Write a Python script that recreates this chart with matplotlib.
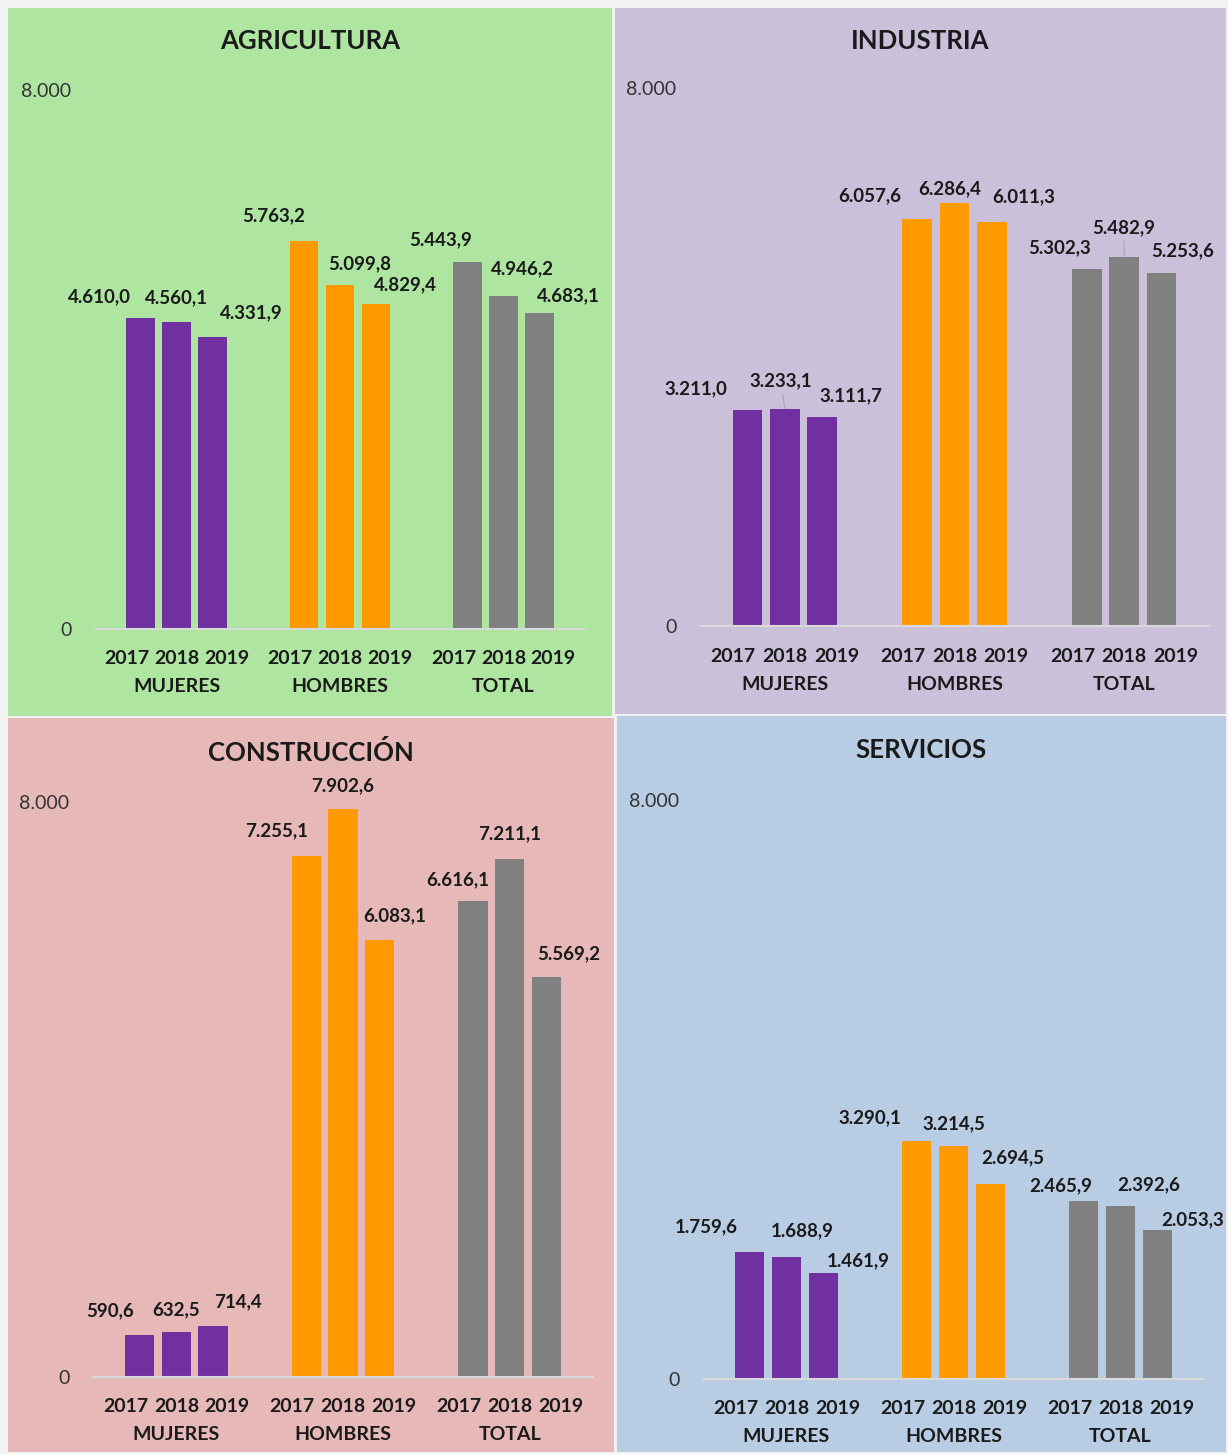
import numpy as np
import matplotlib
matplotlib.use("Agg")
import matplotlib.pyplot as plt
from matplotlib.patches import Rectangle

plt.rcParams['font.family'] = ['Lato', 'DejaVu Sans']

# data (miles)
years = ['2017', '2018', '2019']
groups = ['MUJERES', 'HOMBRES', 'TOTAL']
titles = ['AGRICULTURA', 'INDUSTRIA', 'CONSTRUCCIÓN', 'SERVICIOS']

agricultura_mujeres = [4610.0, 4560.1, 4331.9]
agricultura_hombres = [5763.2, 5099.8, 4829.4]
agricultura_total = [5443.9, 4946.2, 4683.1]

industria_mujeres = [3211.0, 3233.1, 3111.7]
industria_hombres = [6057.6, 6286.4, 6011.3]
industria_total = [5302.3, 5482.9, 5253.6]

construccion_mujeres = [590.6, 632.5, 714.4]
construccion_hombres = [7255.1, 7902.6, 6083.1]
construccion_total = [6616.1, 7211.1, 5569.2]

servicios_mujeres = [1759.6, 1688.9, 1461.9]
servicios_hombres = [3290.1, 3214.5, 2694.5]
servicios_total = [2465.9, 2392.6, 2053.3]

sectors = [
    [agricultura_mujeres, agricultura_hombres, agricultura_total],
    [industria_mujeres, industria_hombres, industria_total],
    [construccion_mujeres, construccion_hombres, construccion_total],
    [servicios_mujeres, servicios_hombres, servicios_total],
]

# label nudges (pixels, relative to bar top)
label_offsets = [
    [(-41, 22), (0, 24), (39, 24), (-30, 25), (20, 22), (30, 19), (-27, 22), (19, 27), (29, 18)],
    [(-52, 21), (-4, 28), (29, 21), (-47, 23), (-5, 14), (32, 25), (-27, 22), (0, 30), (21, 22)],
    [(-30, 24), (0, 22), (25, 24), (-30, 25), (0, 23), (15, 24), (-15, 22), (0, 25), (22, 23)],
    [(-44, 25), (16, 26), (35, 12), (-47, 23), (0, 23), (23, 26), (-23, 15), (28, 21), (35, 11)],
]
# labels that get a leader line (panel, bar index)
leaders = [(1, 1), (1, 7)]

bar_colors = ['#7030A0', '#FF9900', '#808080']
panel_colors = ['#ADE5A1', '#CBC0DA', '#E6B8B7', '#B8CCE4']

W, H = 1228, 1454
# panel boxes in pixels: x0, y0, x1, y1 (top-left origin)
panels = [(8, 8, 612, 716), (615, 8, 1226, 714), (8, 718, 614, 1452), (617, 716, 1226, 1452)]
# axes boxes: left, right, zero-line y, top y
axes_px = [(95, 585, 629, 90), (700, 1209, 626, 88), (93, 593, 1377, 802), (703, 1204, 1379, 800)]
title_y = [41, 41, 752, 750]


def fmt(v):
    s = f"{v:,.1f}"
    return s.replace(',', 'X').replace('.', ',').replace('X', '.')


fig = plt.figure(figsize=(W / 100, H / 100), dpi=100)
fig.patch.set_facecolor('#F2F2F2')

width = 0.175
step = 0.22
year_step = 0.305
ink = '#1A1A1A'

for k in range(4):
    x0, y0, x1, y1 = panels[k]
    fig.add_artist(Rectangle((x0 / W, 1 - y1 / H), (x1 - x0) / W, (y1 - y0) / H,
                             transform=fig.transFigure, facecolor=panel_colors[k],
                             edgecolor='none', zorder=0))
    fig.text((x0 + x1) / 2 / W, 1 - title_y[k] / H, titles[k], ha='center', va='center',
             fontsize=18.5, fontweight='bold', color=ink)

    l, r, zb, zt = axes_px[k]
    ax = fig.add_axes([l / W, 1 - zb / H, (r - l) / W, (zb - zt) / H])
    ax.set_facecolor('none')
    ax.set_xlim(-0.5, 2.5)
    ax.set_ylim(0, 8000)

    for g, vals in enumerate(sectors[k]):
        pos = g + (np.arange(3) - 1) * step
        ax.bar(pos, vals, width=width, color=bar_colors[g], zorder=2)
        for i, v in enumerate(vals):
            dx, dy = label_offsets[k][g * 3 + i]
            arrow = None
            if (k, g * 3 + i) in leaders:
                arrow = dict(arrowstyle='-', color='#A6A6A6', lw=0.8, shrinkA=2, shrinkB=0)
            ax.annotate(fmt(v), (pos[i], v), xytext=(dx, dy), textcoords='offset pixels',
                        ha='center', va='center', fontsize=13.5, fontweight='bold',
                        color=ink, arrowprops=arrow)
        for i, yr in enumerate(years):
            ax.annotate(yr, (g + (i - 1) * year_step, 0), xycoords=('data', 'axes fraction'),
                        xytext=(0, -30), textcoords='offset pixels', ha='center', va='center',
                        fontsize=14, fontweight='bold', color=ink)
        ax.annotate(groups[g], (g, 0), xycoords=('data', 'axes fraction'),
                    xytext=(0, -58), textcoords='offset pixels', ha='center', va='center',
                    fontsize=14, fontweight='bold', color=ink)

    ax.set_xticks([])
    ax.set_yticks([0, 8000], ['0', '8.000'])
    ax.tick_params(axis='y', length=0, pad=17, labelsize=14, labelcolor='#333333')
    for s in ['top', 'right', 'left']:
        ax.spines[s].set_visible(False)
    ax.spines['bottom'].set_color('#D9D9D9')
    ax.spines['bottom'].set_linewidth(1.5)

fig.savefig('out.png', dpi=100, facecolor=fig.get_facecolor())
